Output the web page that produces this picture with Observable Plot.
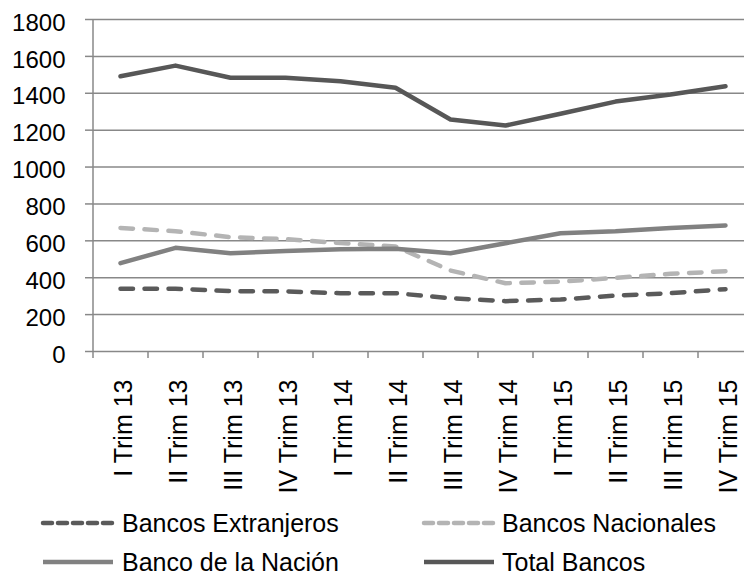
<!DOCTYPE html>
<html>
<head>
<meta charset="utf-8">
<script src="https://cdn.jsdelivr.net/npm/d3@7"></script>
<script src="https://cdn.jsdelivr.net/npm/@observablehq/plot@0.6"></script>
<style>
  body { margin: 0; background: #fff; font-family: "Liberation Sans", Arial, sans-serif; }
  #wrap { position: relative; width: 744px; height: 575px; overflow: hidden; }
  #chart svg { display: block; }
  .leg { position: absolute; font-size: 25px; line-height: 24px; color: #000; white-space: nowrap; }
  .legline { position: absolute; }
</style>
</head>
<body>
<div id="wrap">
  <div id="chart"></div>
  <div id="legend"></div>
</div>
<script>
const categories = ["I Trim 13","II Trim 13","III Trim 13","IV Trim 13","I Trim 14","II Trim 14","III Trim 14","IV Trim 14","I Trim 15","II Trim 15","III Trim 15","IV Trim 15"];
const seriesNames = ["Bancos Extranjeros","Bancos Nacionales","Banco de la Nación","Total Bancos"];
const extranjeros = [340,340,327,326,316,316,289,273,282,303,316,338];
const nacionales  = [670,652,620,609,588,569,439,370,379,399,421,435];
const nacion      = [479,562,533,545,555,557,533,587,641,652,670,683];
const total       = [1492,1550,1484,1484,1465,1430,1258,1225,1289,1355,1393,1438];
const yTicks = [0,200,400,600,800,1000,1200,1400,1600,1800];

const seriesValues = [extranjeros, nacionales, nacion, total];
const styles = [
  {stroke: "#5a5a5a", dash: "12.5,11.5"},
  {stroke: "#b4b4b4", dash: "12.5,11.5"},
  {stroke: "#818181", dash: null},
  {stroke: "#575757", dash: null}
];
const data = seriesNames.map((name, s) => categories.map((c, i) => ({series: name, cat: c, value: seriesValues[s][i]})));

const step = 55;
const chart = Plot.plot({
  width: 744,
  height: 500,
  marginLeft: 92,
  marginRight: 0,
  marginTop: 19,
  marginBottom: 149,
  style: {fontFamily: "'Liberation Sans', Arial, sans-serif", background: "#fff", color: "#000"},
  x: {type: "point", domain: categories, range: [92, 92 + step * categories.length], padding: 0.5, label: null},
  y: {domain: [0, 1800], range: [351, 19], label: null},
  marks: [
    Plot.ruleY(yTicks, {stroke: "#888", strokeWidth: 1.5}),
    Plot.axisY({ticks: yTicks, tickSize: 7, tickFormat: () => "", stroke: "#888", strokeWidth: 1.5, label: null}),
    Plot.axisY({ticks: yTicks, tickSize: 0, tickPadding: 27, dy: 3.5, fontSize: 24, fill: "#000", tickFormat: d => String(d), label: null}),
    Plot.ruleX([categories[0]], {dx: -step / 2, y1: 0, y2: 1800, stroke: "#888", strokeWidth: 1.5}),
    Plot.axisX({tickSize: 7, dx: -step / 2, tickFormat: () => "", stroke: "#888", strokeWidth: 1.5, label: null}),
    Plot.axisX({tickSize: 0, tickPadding: 28, tickRotate: -90, dx: 3, fontSize: 25, fill: "#000", label: null}),
    ...data.map((d, s) => Plot.line(d, {
      x: "cat", y: "value",
      stroke: styles[s].stroke, strokeWidth: 4.5,
      strokeDasharray: styles[s].dash || undefined,
      strokeLinecap: "round", strokeLinejoin: "round"
    }))
  ]
});
document.getElementById("chart").appendChild(chart);

// Legend
const legendPos = [
  {lx: 43, tx: 122, top: 511},
  {lx: 424, tx: 502, top: 511},
  {lx: 43, tx: 122, top: 550},
  {lx: 424, tx: 502, top: 550}
];
const leg = document.getElementById("legend");
seriesNames.forEach((name, s) => {
  const p = legendPos[s];
  const cy = p.top + 12;
  const svg = d3.create("svg").attr("class", "legline")
    .attr("width", 76).attr("height", 12)
    .style("left", (p.lx - 3) + "px").style("top", (cy - 6) + "px");
  svg.append("line").attr("x1", 3).attr("x2", 73).attr("y1", 6).attr("y2", 6)
    .attr("stroke", styles[s].stroke).attr("stroke-width", 4.5)
    .attr("stroke-linecap", styles[s].dash ? "round" : "butt")
    .attr("stroke-dasharray", styles[s].dash ? "9,6" : null);
  leg.appendChild(svg.node());
  const t = document.createElement("div");
  t.className = "leg";
  t.style.left = p.tx + "px";
  t.style.top = p.top + "px";
  t.textContent = name;
  leg.appendChild(t);
});
</script>
</body>
</html>
